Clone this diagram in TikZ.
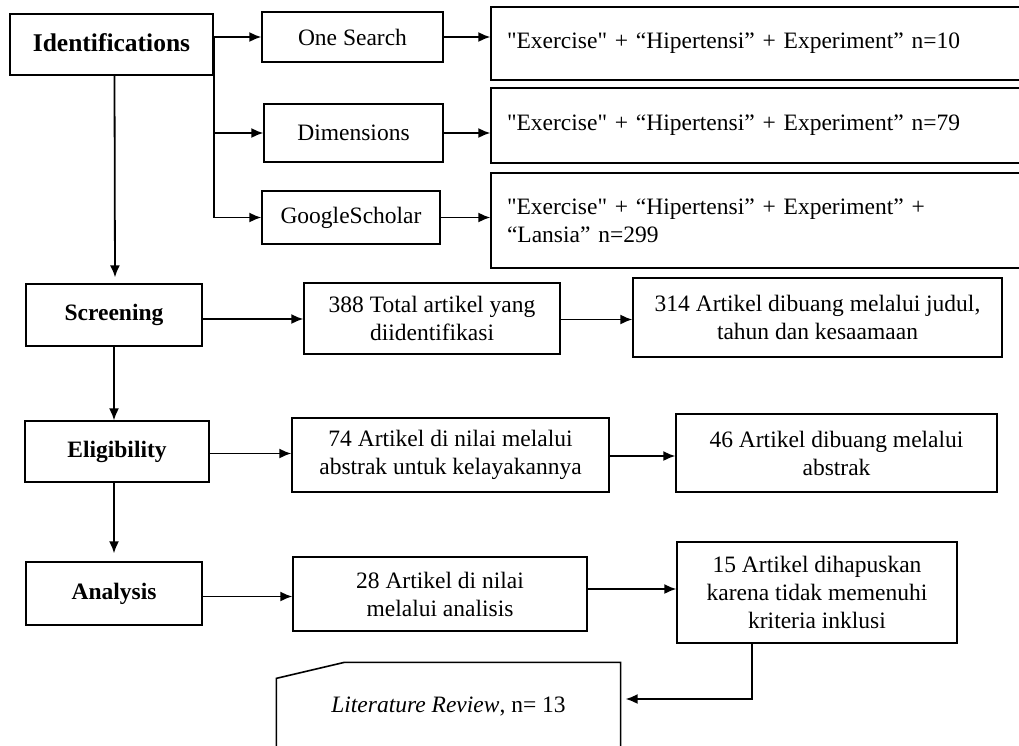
\documentclass[tikz,border=0pt]{standalone}
\usepackage{fontspec}
\setmainfont{Liberation Serif}[Ligatures=TeXOff]
\usetikzlibrary{arrows.meta,calc}
\begin{document}
\begin{tikzpicture}[x=1pt,y=-1pt,
 box/.style={draw, line width=1.3pt, inner sep=0pt, font=\fontsize{23.5}{28}\selectfont, align=center},
 head/.style={box, font=\fontsize{23.5}{28}\selectfont\bfseries},
 qbox/.style={box, align=left, text width=510pt, inner xsep=16pt, minimum width=542pt},
 arr/.style={line width=1.8pt, -{Latex[length=12pt,width=10pt]}},
 ln/.style={line width=1.8pt}]
\useasboundingbox (0,0) rectangle (1019,745);
\fill[white] (0,0) rectangle (1019,745);

% left column
\node[head, font=\fontsize{25.5}{30}\selectfont\bfseries, minimum width=203pt, minimum height=61pt] (ident) at (111.5,44.5) {\raisebox{4pt}{Identifications}};
\node[head, minimum width=176pt, minimum height=62pt] (scr) at (114,315) {\raisebox{3pt}{Screening}};
\node[head, minimum width=184pt, minimum height=61pt] (eli) at (117,451.5) {\raisebox{3pt}{Eligibility}};
\node[head, minimum width=176pt, minimum height=63pt] (ana) at (114,593.5) {\raisebox{4pt}{Analysis}};

% sources
\node[box, minimum width=181pt, minimum height=50pt] (one) at (352.5,37) {One Search};
\node[box, minimum width=179pt, minimum height=58pt] (dim) at (353.5,133) {Dimensions};
\node[box, minimum width=178pt, minimum height=53pt] (gs) at (351,217.5) {GoogleScholar};

% queries
\node[qbox, minimum height=73pt] (q1) at (762,43.5) {"Exercise" + “Hipertensi” + Experiment” n=10};
\node[qbox, minimum height=75pt] (q2) at (762,125.5) {"Exercise" + “Hipertensi” + Experiment” n=79};
\node[qbox, minimum height=95pt] (q3) at (762,220.5) {"Exercise" + “Hipertensi” + Experiment” +\\“Lansia” n=299};

% middle / right
\node[box, minimum width=256pt, minimum height=71pt] (tot) at (432,318.5) {388 Total artikel yang\\diidentifikasi};
\node[box, minimum width=369pt, minimum height=79pt] (dib) at (817.5,317.5) {314 Artikel dibuang melalui judul,\\tahun dan kesaamaan};
\node[box, minimum width=317pt, minimum height=74pt] (a74) at (450.5,455) {74 Artikel di nilai melalui\\abstrak untuk kelayakannya};
\node[box, minimum width=321pt, minimum height=78pt] (a46) at (836.5,453) {46 Artikel dibuang melalui\\abstrak};
\node[box, minimum width=294pt, minimum height=74pt] (a28) at (440,594) {28 Artikel di nilai\\melalui analisis};
\node[box, minimum width=280pt, minimum height=101pt] (a15) at (817,592.5) {15 Artikel dihapuskan\\karena tidak memenuhi\\kriteria inklusi};

% literature review (cut-corner document shape)
\node[box, draw=none, minimum width=343pt, minimum height=88pt] (lit) at (448.5,707) {\textit{Literature Review}, n= 13};
\draw[line width=1.6pt] ($(lit.south west)+(0,20)$) -- ($(lit.north west)+(0,16)$) -- ($(lit.north west)+(68,0)$) -- (lit.north east) -- ($(lit.south east)+(0,20)$);

% identification connectors
\draw[arr] (ident.east |- one.west) -- (one.west);
\draw[ln] (ident.east |- one.west) -- (ident.east |- gs.west);
\draw[arr] (ident.east |- dim.west) -- (dim.west);
\draw[arr] (ident.east |- gs.west) -- (gs.west);
\draw[arr] (one.east) -- (q1.west |- one.east);
\draw[arr] (dim.east) -- (q2.west |- dim.east);
\draw[arr] (gs.east) -- (q3.west |- gs.east);

% vertical flow
\draw[arr, shorten >=6pt] ($(ident.south)+(3,0)$) -- ($(scr.north)+(1,0)$);
\draw[arr] (scr.south) -- (scr.south |- eli.north);
\draw[arr, shorten >=8pt] ($(eli.south)+(-3,0)$) -- ($(eli.south |- ana.north)+(-3,0)$);

% horizontal flow
\draw[arr] ($(scr.east)+(0,4)$) -- ($(scr.east -| tot.west)+(0,4)$);
\draw[arr] ($(tot.east)+(0,1)$) -- ($(tot.east -| dib.west)+(0,1)$);
\draw[arr] ($(eli.east)+(0,2)$) -- ($(eli.east -| a74.west)+(0,2)$);
\draw[arr] ($(a74.east)+(0,1)$) -- ($(a74.east -| a46.west)+(0,1)$);
\draw[arr] ($(ana.east)+(0,3)$) -- ($(ana.east -| a28.west)+(0,3)$);
\draw[arr] ($(a28.east)+(0,-5)$) -- ($(a28.east -| a15.west)+(0,-5)$);

% to literature review
\draw[arr, shorten >=5pt] ($(a15.south)+(-65,0)$) |- ($(lit.east)+(0,-8)$);
\end{tikzpicture}
\end{document}
